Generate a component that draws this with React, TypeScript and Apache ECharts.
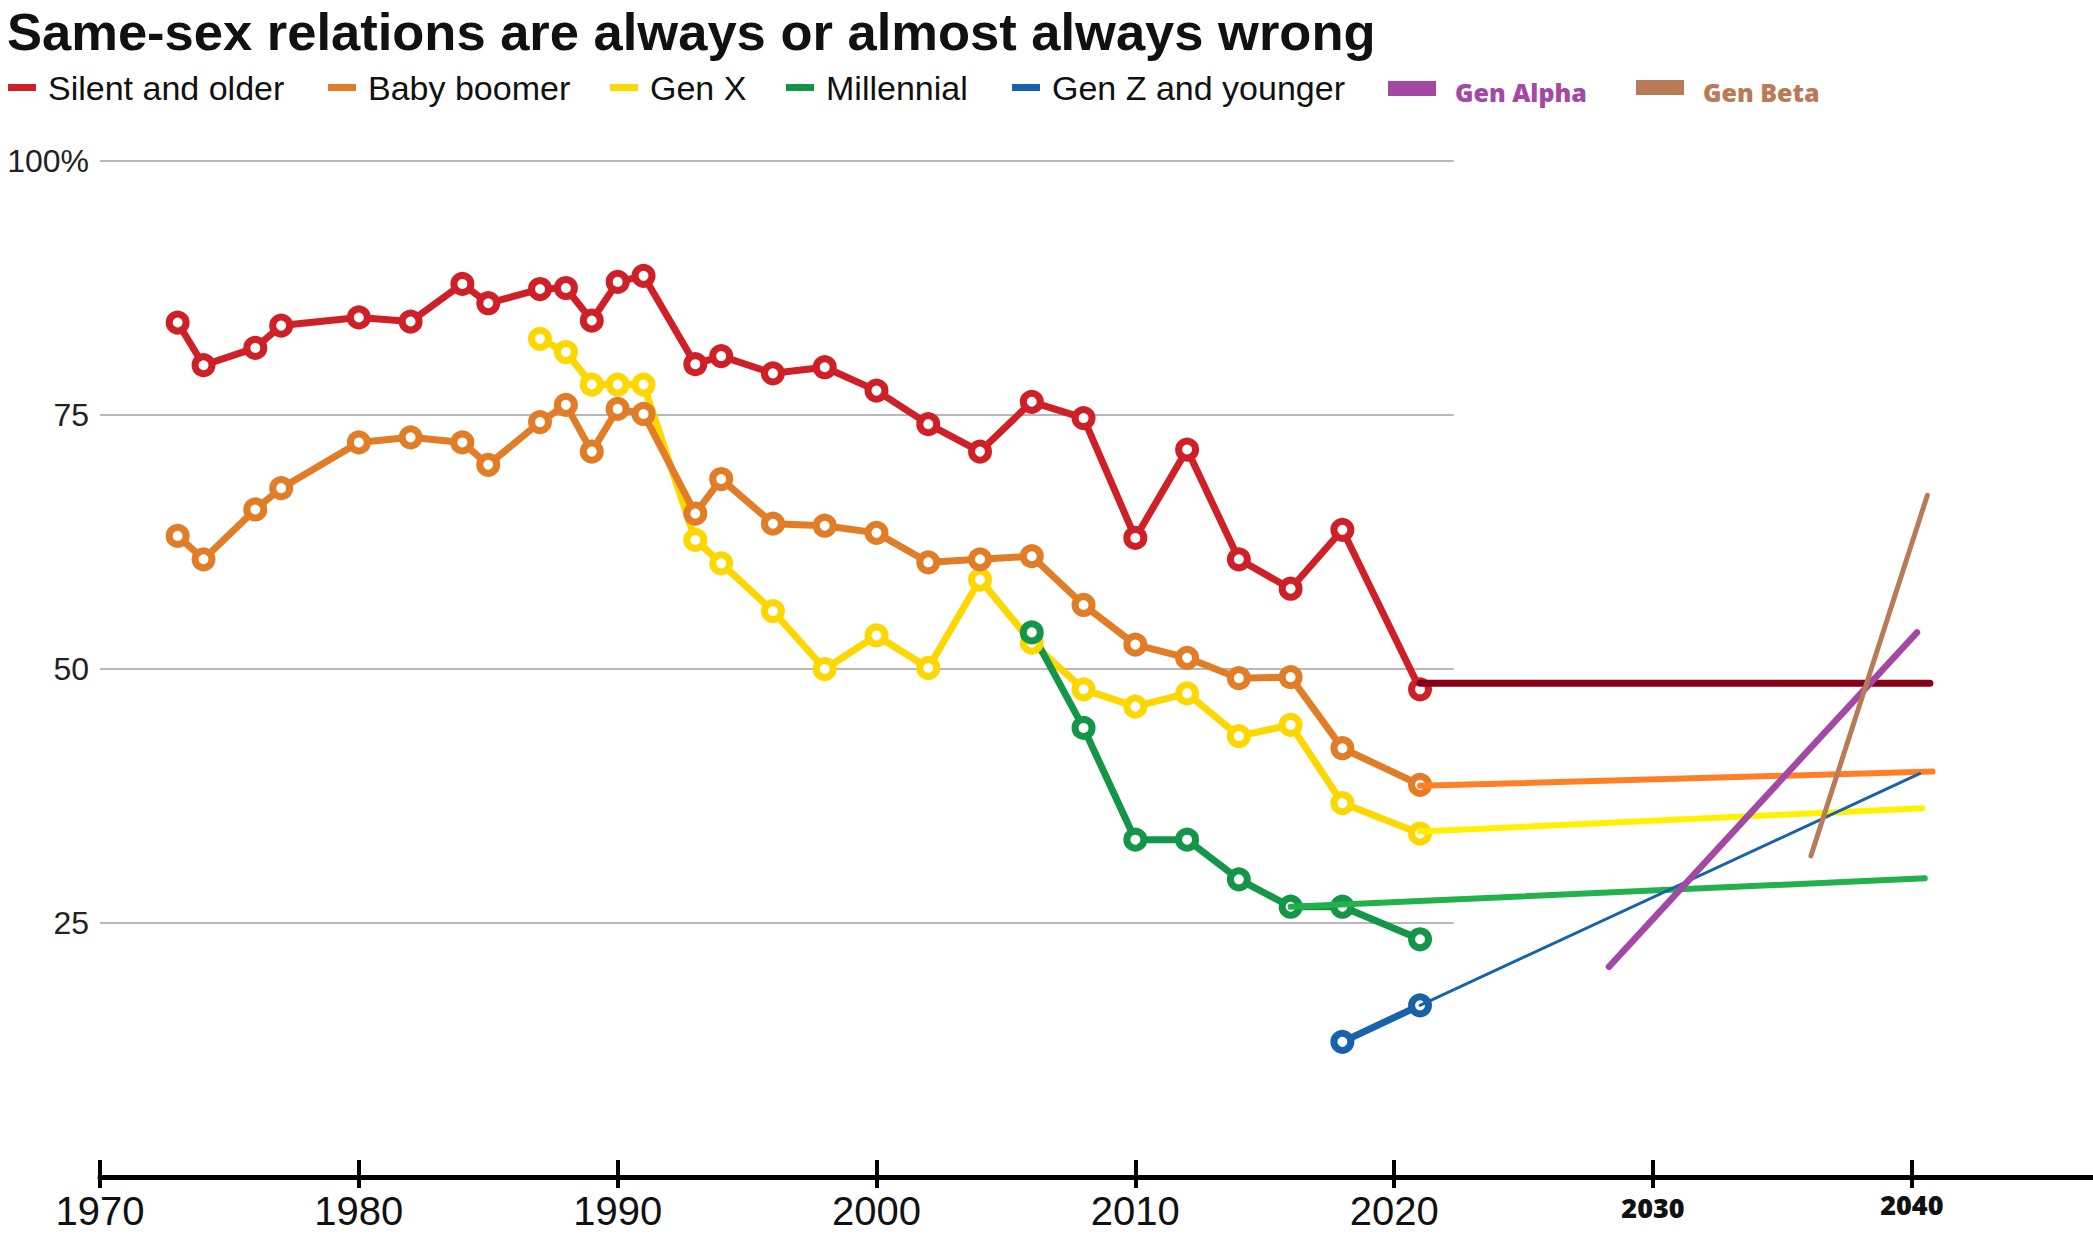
import React, { useEffect, useRef } from "react";
import * as echarts from "echarts";

// ---------- data ----------
const TITLE = "Same-sex relations are always or almost always wrong";

const surveyYears = [1973, 1974, 1976, 1977, 1980, 1982, 1984, 1985, 1987, 1988, 1989, 1990, 1991, 1993, 1994, 1996, 1998, 2000, 2002, 2004, 2006, 2008, 2010, 2012, 2014, 2016, 2018, 2021];
const silentValues = [84.1, 79.9, 81.6, 83.8, 84.6, 84.2, 87.9, 86.0, 87.4, 87.5, 84.3, 88.1, 88.7, 80.0, 80.8, 79.1, 79.7, 77.4, 74.1, 71.4, 76.3, 74.7, 62.9, 71.6, 60.8, 57.9, 63.7, 48.0];
const boomerValues = [63.1, 60.8, 65.7, 67.8, 72.3, 72.8, 72.3, 70.1, 74.3, 76.0, 71.4, 75.6, 75.1, 65.3, 68.7, 64.3, 64.1, 63.4, 60.5, 60.8, 61.1, 56.3, 52.4, 51.1, 49.1, 49.2, 42.2, 38.6];
const genXYears = [1987, 1988, 1989, 1990, 1991, 1993, 1994, 1996, 1998, 2000, 2002, 2004, 2006, 2008, 2010, 2012, 2014, 2016, 2018, 2021];
const genXValues = [82.5, 81.2, 78.0, 78.0, 78.0, 62.7, 60.4, 55.7, 50.0, 53.3, 50.1, 58.8, 52.6, 48.0, 46.3, 47.6, 43.4, 44.5, 36.8, 33.8];
const millennialYears = [2006, 2008, 2010, 2012, 2014, 2016, 2018, 2021];
const millennialValues = [53.6, 44.2, 33.2, 33.2, 29.3, 26.6, 26.6, 23.4];
const genZYears = [2018, 2021];
const genZValues = [13.3, 16.9];

const seriesNames = ["Silent and older", "Baby boomer", "Gen X", "Millennial", "Gen Z and younger"];
const seriesColors = ["#cf2028", "#e17d27", "#fcd800", "#139647", "#1862ab"];

// hand-drawn projections
const projNames = ["Silent proj.", "Boomer proj.", "Gen X proj.", "Millennial proj.", "Gen Z proj.", "Gen Alpha", "Gen Beta"];
const projStartYear = [2021, 2021, 2021, 2016, 2021, 2028.3, 2036.1];
const projStartValue = [48.6, 38.5, 34.0, 26.6, 16.9, 20.7, 31.6];
const projEndYear = [2040.7, 2040.8, 2040.4, 2040.5, 2040.3, 2040.2, 2040.6];
const projEndValue = [48.6, 39.9, 36.3, 29.4, 39.7, 53.6, 67.1];
const projColors = ["#880015", "#ff7f27", "#fff200", "#22b14c", "#1862ab", "#a349a4", "#b97a57"];
const projWidths = [7, 6, 6, 6, 3, 6.5, 5];

const extraLegendNames = ["Gen Alpha", "Gen Beta"];
const extraLegendColors = ["#a349a4", "#b97a57"];

const xTickValues = [1970, 1980, 1990, 2000, 2010, 2020, 2030, 2040];
const yTickValues = [25, 50, 75, 100];
const gridEndYear = 2022.3;

// ---------- layout ----------
const W = 2093;
const H = 1242;
const legendSwatchX = [8, 328, 610, 786, 1012];
const extraSwatchX = [1388, 1636];

function buildOption() {
  const mainData = [
    surveyYears.map((y, i) => [y, silentValues[i]]),
    surveyYears.map((y, i) => [y, boomerValues[i]]),
    genXYears.map((y, i) => [y, genXValues[i]]),
    millennialYears.map((y, i) => [y, millennialValues[i]]),
    genZYears.map((y, i) => [y, genZValues[i]]),
  ];
  const drawOrder = [0, 2, 1, 3, 4];

  const gridSeries = yTickValues.map((v) => ({
    type: "line",
    name: "grid" + v,
    silent: true,
    z: 1,
    symbol: "none",
    data: [[1970, v], [gridEndYear, v]],
    lineStyle: { color: "#b8b8b8", width: 1.8 },
  }));

  const mainSeries = drawOrder.map((i) => ({
    type: "line",
    name: seriesNames[i],
    z: 2,
    data: mainData[i],
    symbol: "circle",
    symbolSize: 17,
    showAllSymbol: true,
    lineStyle: { color: seriesColors[i], width: 7 },
    itemStyle: { color: "#ffffff", borderColor: seriesColors[i], borderWidth: 7 },
  }));

  const projSeries = projNames.map((n, i) => ({
    type: "line",
    name: n,
    z: 3,
    symbol: "none",
    data: [[projStartYear[i], projStartValue[i]], [projEndYear[i], projEndValue[i]]],
    lineStyle: { color: projColors[i], width: projWidths[i], cap: "round" },
  }));

  const graphic: any[] = [
    {
      type: "text",
      x: 7,
      y: 31,
      style: {
        text: TITLE,
        fill: "#111",
        fontFamily: "Liberation Sans",
        fontWeight: "bold",
        fontSize: 52.5,
        verticalAlign: "middle",
      },
    },
  ];
  seriesNames.forEach((n, i) => {
    graphic.push({
      type: "rect",
      shape: { x: legendSwatchX[i], y: 84, width: 28, height: 7 },
      style: { fill: seriesColors[i] },
    });
    graphic.push({
      type: "text",
      x: legendSwatchX[i] + 40,
      y: 88,
      style: {
        text: n,
        fill: "#111",
        fontFamily: "Liberation Sans",
        fontSize: 34,
        verticalAlign: "middle",
      },
    });
  });
  extraLegendNames.forEach((n, i) => {
    graphic.push({
      type: "rect",
      shape: { x: extraSwatchX[i], y: 81 - i, width: 48, height: 15 },
      style: { fill: extraLegendColors[i] },
    });
    graphic.push({
      type: "text",
      x: extraSwatchX[i] + 67,
      y: 92,
      style: {
        text: n,
        fill: extraLegendColors[i],
        fontFamily: "Open Sans",
        fontWeight: 800,
        fontSize: 25,
        verticalAlign: "middle",
      },
    });
  });

  return {
    animation: false,
    backgroundColor: "#ffffff",
    grid: { left: 100, right: 0, top: 161, bottom: 65 },
    xAxis: [
      {
        type: "value",
        min: 1970,
        max: 2047,
        interval: 10,
        position: "bottom",
        axisLine: { show: true, lineStyle: { color: "#000", width: 5 } },
        axisTick: { show: true, length: 11, lineStyle: { color: "#000", width: 4 }, customValues: xTickValues },
        splitLine: { show: false },
        axisLabel: {
          show: true,
          margin: 14,
          customValues: xTickValues,
          formatter: (v: number) => (v === 2040 ? `{c|${v}}` : v === 2030 ? `{b|${v}}` : `{a|${v}}`),
          rich: {
            a: { fontFamily: "Liberation Sans", fontSize: 40, lineHeight: 40, color: "#111" },
            b: { fontFamily: "Open Sans", fontWeight: 800, fontSize: 27, lineHeight: 27, color: "#111", padding: [6, 0, 0, 0] },
            c: { fontFamily: "Open Sans", fontWeight: 800, fontSize: 27, lineHeight: 27, color: "#111" },
          },
        },
      },
      {
        type: "value",
        min: 1970,
        max: 2047,
        interval: 10,
        position: "bottom",
        axisLine: { show: false },
        axisTick: { show: true, inside: true, length: 17, lineStyle: { color: "#000", width: 4 }, customValues: xTickValues },
        splitLine: { show: false },
        axisLabel: { show: false },
      },
    ],
    yAxis: {
      type: "value",
      min: 0,
      max: 100,
      interval: 25,
      axisLine: { show: false },
      axisTick: { show: false },
      splitLine: { show: false },
      axisLabel: {
        show: true,
        margin: 11,
        customValues: yTickValues,
        fontFamily: "Liberation Sans",
        fontSize: 32,
        color: "#222",
        formatter: (v: number) => (v === 100 ? "100%" : String(v)),
      },
    },
    graphic,
    series: [...gridSeries, ...mainSeries, ...projSeries],
  };
}

export default function App() {
  const ref = useRef<HTMLDivElement>(null);
  useEffect(() => {
    document.body.style.margin = "0";
    const chart = echarts.init(ref.current as HTMLDivElement, null, { renderer: "svg" });
    chart.setOption(buildOption() as any);
    return () => chart.dispose();
  }, []);
  return (
    <div
      ref={ref}
      style={{ position: "absolute", left: 0, top: 0, width: W, height: H, background: "#fff" }}
    />
  );
}
